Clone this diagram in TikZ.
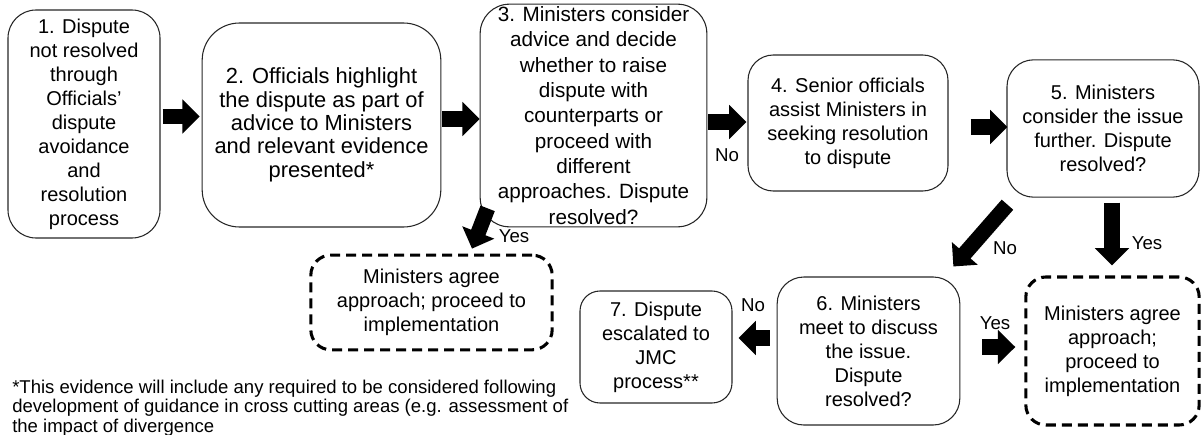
\documentclass[tikz,border=0pt]{standalone}
\usepackage{fontspec}
\setmainfont{Liberation Sans}
\usetikzlibrary{arrows.meta}
\tikzset{
  box/.style={draw=black!85, line width=0.8pt, rounded corners=20pt, align=center,
    inner sep=0pt, font=\fontsize{15}{18}\selectfont},
  dbox/.style={draw=black, line width=2.3pt, dash pattern=on 7.5pt off 4.5pt,
    rounded corners=15pt, align=center, inner sep=0pt, font=\fontsize{15}{18}\selectfont},
  blk/.style={draw=black, line width=11.5pt, -{Triangle[length=13pt,width=25pt]}},
  lbl/.style={inner sep=0pt, font=\fontsize{14}{16}\selectfont},
  note/.style={inner sep=0pt, align=left, anchor=north west, font=\fontsize{13.9}{14.4}\selectfont}
}
\begin{document}
\begin{tikzpicture}[x=0.75pt,y=-0.75pt]
\useasboundingbox (0,0) rectangle (1202,435);
% boxes
\node[box, rounded corners=21pt, minimum width=114pt, minimum height=171pt] (b1) at (84,124)
  {1. Dispute\\not resolved\\through\\Officials'\\dispute\\avoidance\\and\\resolution\\process};
\node[box, rounded corners=28pt, minimum width=179pt, minimum height=153pt,
  font=\fontsize{16.4}{17.5}\selectfont] (b2) at (321.5,125)
  {2. Officials highlight\\the dispute as part of\\advice to Ministers\\and relevant evidence\\presented*};
\node[box, rounded corners=22pt, minimum width=170pt, minimum height=167pt,
  font=\fontsize{15.5}{19}\selectfont] (b3) at (593.5,115.5)
  {3. Ministers consider\\advice and decide\\whether to raise\\dispute with\\counterparts or\\proceed with\\different\\approaches. Dispute\\resolved?};
\node[box, rounded corners=19pt, minimum width=150pt, minimum height=102pt] (b4) at (848,123)
  {4. Senior officials\\assist Ministers in\\seeking resolution\\to dispute};
\node[box, rounded corners=20pt, minimum width=144pt, minimum height=103pt] (b5) at (1103,128.5)
  {5. Ministers\\consider the issue\\further. Dispute\\resolved?};
\node[dbox, minimum width=181pt, minimum height=71pt] (d1) at (431.5,302.5)
  {Ministers agree\\approach; proceed to\\implementation};
\node[box, rounded corners=20pt, minimum width=137pt, minimum height=111pt] (b6) at (868.5,351)
  {6. Ministers\\meet to discuss\\the issue.\\Dispute\\resolved?};
\node[box, rounded corners=15pt, minimum width=114pt, minimum height=84pt] (b7) at (656,347)
  {7. Dispute\\escalated to\\JMC\\process**};
\node[dbox, minimum width=130pt, minimum height=111pt] (d2) at (1112.5,351)
  {Ministers agree\\approach;\\proceed to\\implementation};
% arrows
\draw[blk] ([shift={(2,-7.5)}]b1.east) -- ([shift={(-2,-8.5)}]b2.west);
\draw[blk] ([shift={(1,-6)}]b2.east) -- ([shift={(0,3.5)}]b3.west);
\draw[blk] ([shift={(1,6.5)}]b3.east) -- ([shift={(-1,-1)}]b4.west);
\draw[blk] ([shift={(22,4)}]b4.east) -- ([shift={(1,-1.5)}]b5.west);
\draw[blk] ([shift={(9,5)}]b5.south) -- ([shift={(-0.5,-10)}]d2.north);
\draw[blk] ([shift={(1,7)}]b5.south west) -- ([shift={(-7,-10)}]b6.north east);
\draw[blk] ([shift={(8,-19)}]b3.south west) -- ([shift={(40.5,-5)}]d1.north);
\draw[blk] ([shift={(22,-4)}]b6.east) -- ([shift={(-9,-4)}]d2.west);
\draw[blk] ([shift={(-7,-13)}]b6.west) -- ([shift={(6,-9)}]b7.east);
% labels
\node[lbl] (l34) at (727,155) {No};
\node[lbl] (l3d) at (514,236) {Yes};
\node[lbl] (l56) at (1005,248) {No};
\node[lbl] (l5d) at (1147,243) {Yes};
\node[lbl] (l6d) at (995,323) {Yes};
\node[lbl] (l67) at (753,305) {No};
% footnote
\node[note] (fn) at (12,380)
  {*This evidence will include any required to be considered following\\development of guidance in cross cutting areas (e.g. assessment of\\the impact of divergence};
\end{tikzpicture}
\end{document}
